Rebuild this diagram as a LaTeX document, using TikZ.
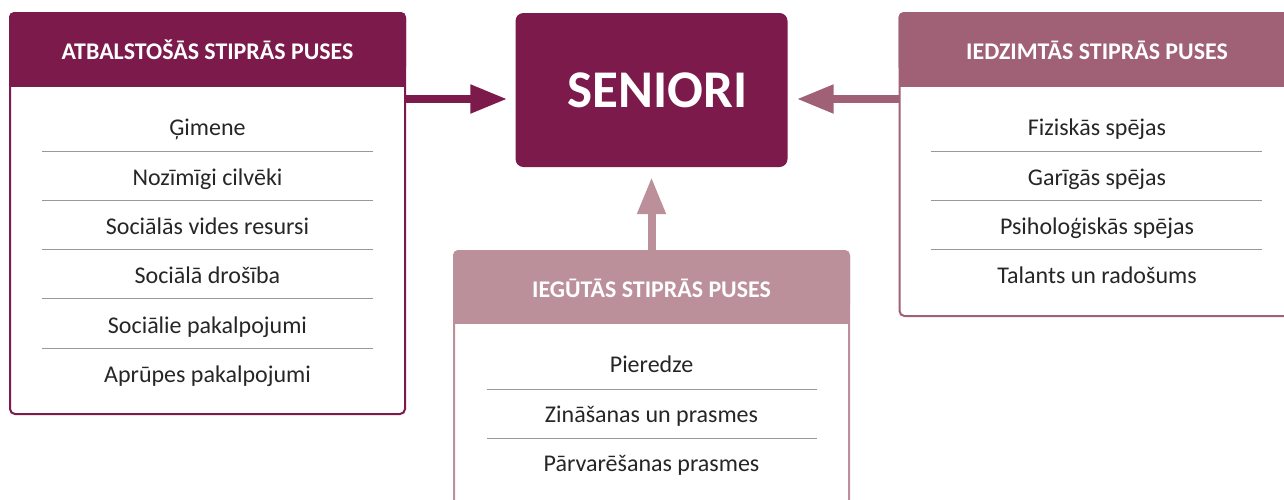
\documentclass[tikz,border=0pt]{standalone}
\usepackage{fontspec}
\setmainfont{Carlito}
\usetikzlibrary{shapes,arrows.meta,positioning,calc}
\definecolor{plum}{RGB}{123,26,75}
\definecolor{mauve}{RGB}{160,96,117}
\definecolor{rose}{RGB}{188,144,154}
\tikzstyle{panel} = [rectangle, draw, line width=2pt, rounded corners=5pt, minimum width=395pt, fill=white]
\tikzstyle{head} = [text=white, font=\bfseries\fontsize{23.9}{28}\selectfont, text height=15.4pt, text depth=0pt]
\tikzstyle{item} = [font=\fontsize{24}{28}\selectfont, text=black!85, text height=15.4pt, text depth=0pt]
\tikzstyle{rule} = [draw, black!40, line width=1pt]
\tikzstyle{line} = [draw, line width=8pt, -{Triangle[length=37pt,width=27pt]}]

\begin{document}
\begin{tikzpicture}[x=1pt, y=-1pt, node distance=49.4pt]
  \useasboundingbox (0,0) rectangle (1284,499);
  % Place boxes
  \node [panel, draw=plum, minimum height=401pt] (support) at (207.5,213.5) {};
  \node [panel, draw=mauve, minimum height=303pt] (innate) at (1097,164.5) {};
  \node [panel, draw=rose, minimum height=300pt] (acquired) at (651.5,401) {};
  \node [rectangle, fill=plum, rounded corners=8pt, minimum width=272pt, minimum height=154pt, text=white, text height=35pt, text depth=0pt, font=\bfseries\fontsize{53}{60}\selectfont] (seniori) at (651.5,90) {\hspace{12pt}SENIORI};
  % Headers
  \fill [plum, rounded corners=5pt] (support.north west) rectangle ([yshift=-60pt]support.north east);
  \fill [plum] ([yshift=-30pt]support.north west) rectangle ([yshift=-75pt]support.north east);
  \fill [mauve, rounded corners=5pt] (innate.north west) rectangle ([yshift=-60pt]innate.north east);
  \fill [mauve] ([yshift=-30pt]innate.north west) rectangle ([yshift=-75pt]innate.north east);
  \fill [rose, rounded corners=5pt] (acquired.north west) rectangle ([yshift=-60pt]acquired.north east);
  \fill [rose] ([yshift=-30pt]acquired.north west) rectangle ([yshift=-74pt]acquired.north east);
  \node [head] (supporthead) at (207.5,51.5) {ATBALSTOŠĀS STIPRĀS PUSES};
  \node [head] (innatehead) at (1097,51.5) {IEDZIMTĀS STIPRĀS PUSES};
  \node [head] (acquiredhead) at (651.5,289.5) {IEGŪTĀS STIPRĀS PUSES};
  % Place items
  \node [item] (family) at (207.5,128) {Ģimene};
  \node [item, below of=family] (people) {Nozīmīgi cilvēki};
  \node [item, below of=people] (social) {Sociālās vides resursi};
  \node [item, below of=social] (security) {Sociālā drošība};
  \node [item, below of=security] (services) {Sociālie pakalpojumi};
  \node [item, below of=services] (care) {Aprūpes pakalpojumi};
  \node [item] (physical) at (1097,128) {Fiziskās spējas};
  \node [item, below of=physical] (mental) {Garīgās spējas};
  \node [item, below of=mental] (psych) {Psiholoģiskās spējas};
  \node [item, below of=psych] (talent) {Talants un radošums};
  \node [item] (experience) at (651.5,365) {Pieredze};
  \node [item, below of=experience] (skills) {Zināšanas un prasmes};
  \node [item, below of=skills] (coping) {Pārvarēšanas prasmes};
  % Draw rules
  \path [rule] (42,151.5) -- (373,151.5);
  \path [rule] (42,200.5) -- (373,200.5);
  \path [rule] (42,249.5) -- (373,249.5);
  \path [rule] (42,298.5) -- (373,298.5);
  \path [rule] (42,348) -- (373,348);
  \path [rule] (931,151.5) -- (1262,151.5);
  \path [rule] (931,200.5) -- (1262,200.5);
  \path [rule] (931,249.5) -- (1262,249.5);
  \path [rule] (487,389) -- (817,389);
  \path [rule] (487,438) -- (817,438);
  % Draw edges
  \coordinate (supportout) at (support.east |- 0,99);
  \coordinate (innateout) at (innate.west |- 0,99);
  \path [line, plum] (supportout) -- ([xshift=-8pt]seniori.west |- supportout);
  \path [line, mauve] (innateout) -- ([xshift=9pt]seniori.east |- innateout);
  \path [line, rose] (acquired.north) -- ([yshift=-10pt]seniori.south);
\end{tikzpicture}
\end{document}
